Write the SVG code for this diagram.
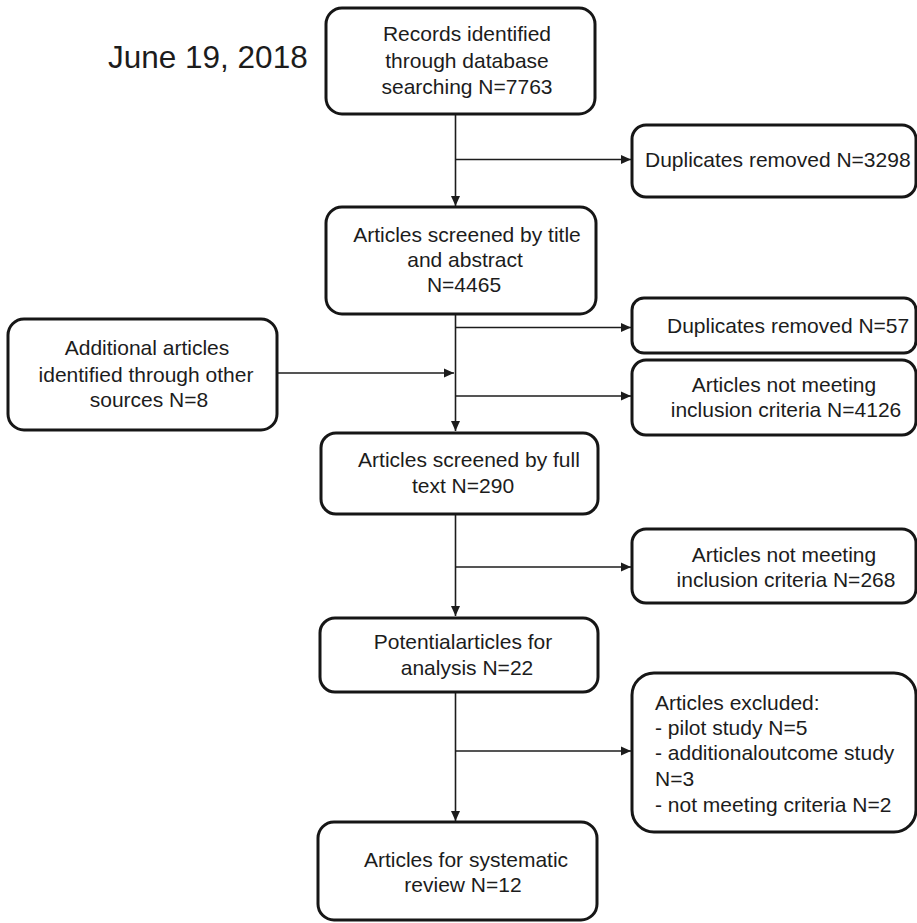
<svg xmlns="http://www.w3.org/2000/svg" width="917" height="923" viewBox="0 0 917 923">
  <style>
    .box { fill: #ffffff; stroke: #161616; stroke-width: 3; }
    .lbl { font-family: "Liberation Sans", Arial, sans-serif; font-size: 21px; fill: #1c1c1c; }
    .mid { text-anchor: middle; }
    .date { font-family: "Liberation Sans", Arial, sans-serif; font-size: 31.5px; fill: #1c1c1c; }
    .conn { fill: none; stroke: #1c1c1c; stroke-width: 1.6; }
  </style>
  <defs>
    <marker id="arrow" viewBox="0 0 10 10" refX="10" refY="5" markerWidth="10" markerHeight="10" markerUnits="userSpaceOnUse" orient="auto">
      <path d="M0,0.5 L10,5 L0,9.5 Z" fill="#1c1c1c"/>
    </marker>
  </defs>

  <rect width="917" height="923" fill="#ffffff"/>

  <text class="date" x="108" y="68">June 19, 2018</text>

  <!-- connectors -->
  <g id="connectors">
    <line class="conn" x1="455.5" y1="114" x2="455.5" y2="206" marker-end="url(#arrow)"/>
    <line class="conn" x1="455.5" y1="159.5" x2="631" y2="159.5" marker-end="url(#arrow)"/>
    <line class="conn" x1="455.5" y1="314" x2="455.5" y2="431" marker-end="url(#arrow)"/>
    <line class="conn" x1="455.5" y1="327.5" x2="631" y2="327.5" marker-end="url(#arrow)"/>
    <line class="conn" x1="455.5" y1="396" x2="631" y2="396" marker-end="url(#arrow)"/>
    <line class="conn" x1="277" y1="373" x2="454" y2="373" marker-end="url(#arrow)"/>
    <line class="conn" x1="455.5" y1="514" x2="455.5" y2="616" marker-end="url(#arrow)"/>
    <line class="conn" x1="455.5" y1="567" x2="631" y2="567" marker-end="url(#arrow)"/>
    <line class="conn" x1="455.5" y1="692" x2="455.5" y2="821" marker-end="url(#arrow)"/>
    <line class="conn" x1="455.5" y1="751" x2="631" y2="751" marker-end="url(#arrow)"/>
  </g>

  <g id="records">
    <rect class="box" x="326" y="8" width="269" height="106" rx="16"/>
    <text class="lbl mid" x="467" y="41">Records identified</text>
    <text class="lbl mid" x="467" y="68">through database</text>
    <text class="lbl mid" x="467" y="94">searching N=7763</text>
  </g>

  <g id="dup1">
    <rect class="box" x="632" y="125" width="284" height="72" rx="14"/>
    <text class="lbl" x="645" y="167">Duplicates removed N=3298</text>
  </g>

  <g id="screen-title">
    <rect class="box" x="326" y="207" width="270" height="107" rx="16"/>
    <text class="lbl mid" x="467" y="242">Articles screened by title</text>
    <text class="lbl mid" x="465" y="267">and abstract</text>
    <text class="lbl mid" x="464" y="292">N=4465</text>
  </g>

  <g id="additional">
    <rect class="box" x="8" y="319" width="269" height="111" rx="16"/>
    <text class="lbl mid" x="147" y="355">Additional articles</text>
    <text class="lbl mid" x="146" y="382">identified through other</text>
    <text class="lbl mid" x="149" y="407">sources N=8</text>
  </g>

  <g id="dup2">
    <rect class="box" x="632" y="298" width="284" height="55" rx="12"/>
    <text class="lbl" x="667" y="333">Duplicates removed N=57</text>
  </g>

  <g id="not-meeting-1">
    <rect class="box" x="632" y="360" width="284" height="75" rx="14"/>
    <text class="lbl mid" x="784" y="392">Articles not meeting</text>
    <text class="lbl mid" x="786" y="417">inclusion criteria N=4126</text>
  </g>

  <g id="screen-full">
    <rect class="box" x="321" y="433" width="277" height="81" rx="15"/>
    <text class="lbl mid" x="469" y="467">Articles screened by full</text>
    <text class="lbl mid" x="463" y="493">text N=290</text>
  </g>

  <g id="not-meeting-2">
    <rect class="box" x="632" y="529" width="284" height="74" rx="14"/>
    <text class="lbl mid" x="784" y="562">Articles not meeting</text>
    <text class="lbl mid" x="786" y="587">inclusion criteria N=268</text>
  </g>

  <g id="potential">
    <rect class="box" x="320" y="618" width="278" height="74" rx="15"/>
    <text class="lbl mid" x="463" y="649">Potentialarticles for</text>
    <text class="lbl mid" x="467" y="675">analysis N=22</text>
  </g>

  <g id="excluded">
    <rect class="box" x="632" y="673" width="284" height="159" rx="22"/>
    <text class="lbl" x="655" y="710">Articles excluded:</text>
    <text class="lbl" x="655" y="735">- pilot study N=5</text>
    <text class="lbl" x="655" y="760">- additionaloutcome study</text>
    <text class="lbl" x="655" y="786">N=3</text>
    <text class="lbl" x="655" y="812">- not meeting criteria N=2</text>
  </g>

  <g id="final">
    <rect class="box" x="318" y="822" width="279" height="98" rx="16"/>
    <text class="lbl mid" x="466" y="867">Articles for systematic</text>
    <text class="lbl mid" x="463" y="892">review N=12</text>
  </g>
</svg>
